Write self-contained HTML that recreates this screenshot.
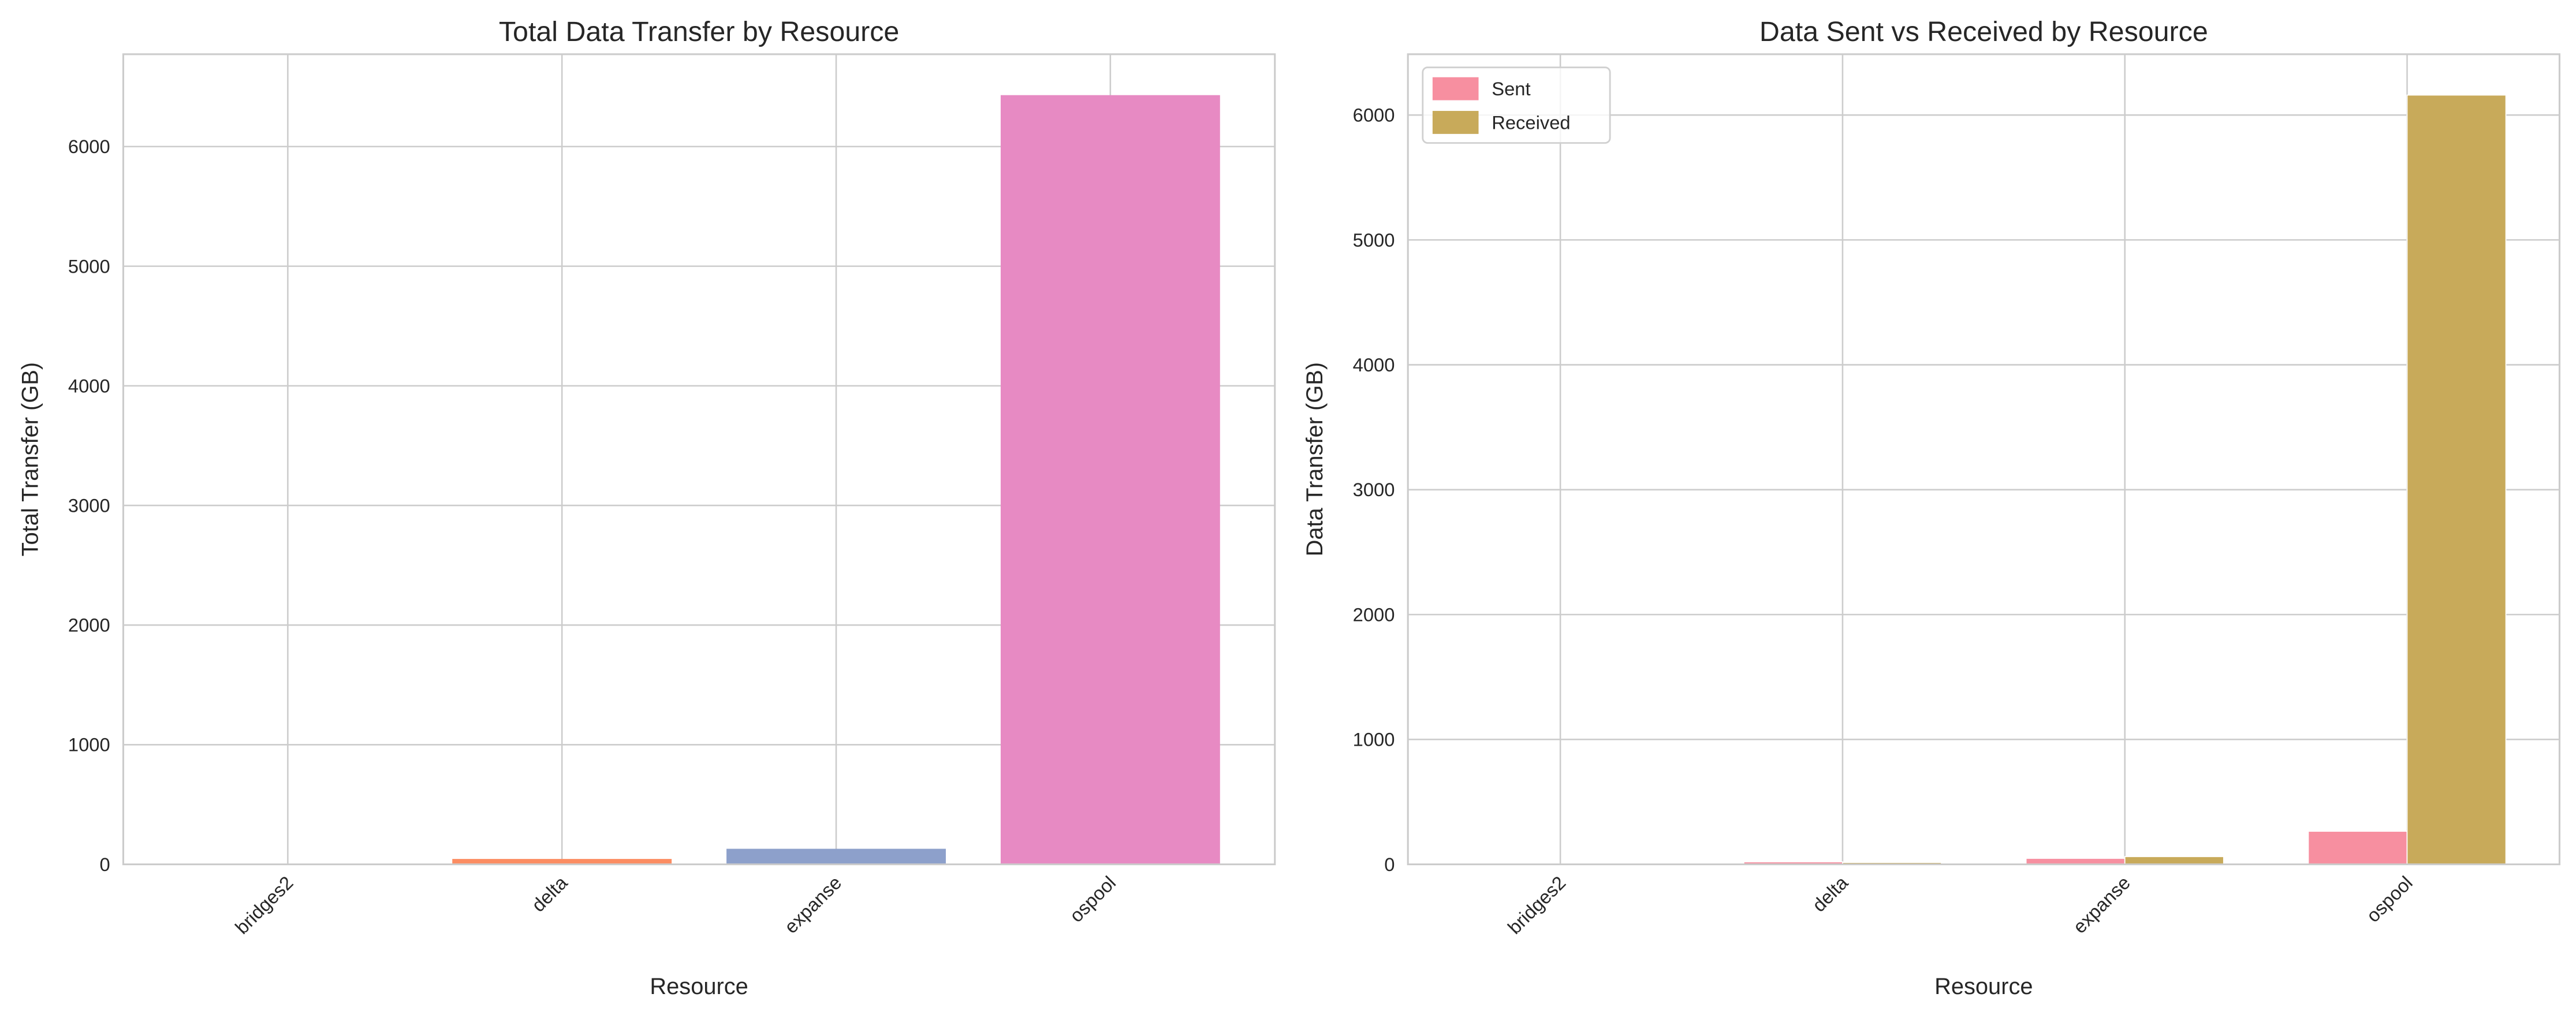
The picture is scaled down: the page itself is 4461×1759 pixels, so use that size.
<!DOCTYPE html>
<html><head><meta charset="utf-8"><style>
html,body{margin:0;padding:0;background:#fff;}
svg{display:block;font-family:"Liberation Sans",Arial,sans-serif;}
</style></head><body>
<svg id="fig" xmlns="http://www.w3.org/2000/svg" width="4461" height="1759" viewBox="0 0 1568 618.3"></svg>
<script>
const categories = ["bridges2","delta","expanse","ospool"];
const totalValues = [5, 45, 130, 6430];
const sentValues = [2, 20, 48, 265];
const receivedValues = [2, 15, 62, 6160];
const leftTicks = [0,1000,2000,3000,4000,5000,6000];
const rightTicks = [0,1000,2000,3000,4000,5000,6000];
const totalColors = ["#66c2a5","#fc8d62","#8da0cb","#e78ac3"];

const NS="http://www.w3.org/2000/svg";
const svg=document.getElementById('fig');
function mk(tag,attrs,parent){const e=document.createElementNS(NS,tag);for(const k in attrs)e.setAttribute(k,attrs[k]);(parent||svg).appendChild(e);return e;}

function panel(cfg){
  const g=mk('g',{});
  
  
  const L=cfg.x0,R=cfg.x1,T=33,B=526;
  const pad=cfg.pad;
  const xs=i=>L+(i+pad)/(3+2*pad)*(R-L);
  const ys=v=>B-v/cfg.ymax*(B-T);
  cfg.ticks.forEach(t=>{
    const l=mk('line',{x1:L,x2:R,y1:ys(t),y2:ys(t),stroke:'#cccccc','stroke-width':0.9},g);
    
    
    const tx=mk('text',{x:L-8,y:ys(t)+4,'text-anchor':'end','font-size':11.5,fill:'#262626'},g);
    tx.textContent=t;
    
    
  });
  categories.forEach((c,i)=>{
    const l=mk('line',{x1:xs(i),x2:xs(i),y1:T,y2:B,stroke:'#cccccc','stroke-width':0.9},g);
    
    
  });
  cfg.draw(g,xs,ys,(R-L)/(3+2*pad));
  const fr=mk('rect',{x:L,y:T,width:R-L,height:B-T,fill:'none',stroke:'#cccccc','stroke-width':1.1},g);
  
  
  categories.forEach((c,i)=>{
    const x=xs(i)+4,y=B+12;
    const t=mk('text',{x:x,y:y,'text-anchor':'end','font-size':11.5,fill:'#262626',transform:`rotate(-45 ${x} ${y})`},g);
    t.textContent=c;
    
    
  });
  const ti=mk('text',{x:(L+R)/2,y:25,'text-anchor':'middle','font-size':17,fill:'#262626'},g);
  ti.textContent=cfg.title;
  
  
  const xl=mk('text',{x:(L+R)/2,y:605,'text-anchor':'middle','font-size':14,fill:'#262626'},g);
  xl.textContent='Resource';
  
  
  const yx=cfg.ylx,yy=(T+B)/2;
  const yl=mk('text',{x:yx,y:yy,'text-anchor':'middle','font-size':14,fill:'#262626',transform:`rotate(-90 ${yx} ${yy})`},g);
  yl.textContent=cfg.ylabel;
  
  
}

panel({name:'total-transfer-chart',x0:75,x1:776,pad:0.6,ymax:6772,ticks:leftTicks,title:'Total Data Transfer by Resource',ylabel:'Total Transfer (GB)',ylx:23,
  draw:(g,xs,ys,u)=>{
    const bw=0.8*u;
    totalValues.forEach((v,i)=>{
      const r=mk('rect',{x:xs(i)-bw/2,y:ys(v),width:bw,height:ys(0)-ys(v),fill:totalColors[i]},g);
      
      
    });
  }});

panel({name:'sent-received-chart',x0:857,x1:1558,pad:0.54,ymax:6487,ticks:rightTicks,title:'Data Sent vs Received by Resource',ylabel:'Data Transfer (GB)',ylx:805,
  draw:(g,xs,ys,u)=>{
    const bw=0.35*u;
    sentValues.forEach((v,i)=>{
      const r=mk('rect',{x:xs(i)-bw,y:ys(v),width:bw,height:ys(0)-ys(v),fill:'#f78fa0',stroke:'#fff','stroke-width':0.6},g);
      
      
    });
    receivedValues.forEach((v,i)=>{
      const r=mk('rect',{x:xs(i),y:ys(v),width:bw,height:ys(0)-ys(v),fill:'#c8aa5a',stroke:'#fff','stroke-width':0.6},g);
      
      
    });
    const lg=mk('g',{},g);
    
    
    mk('rect',{x:866,y:41,width:114,height:46,rx:3,fill:'#fff','fill-opacity':0.8,stroke:'#d0d0d0','stroke-width':1},lg);
    const items=[['Sent','#f78fa0'],['Received','#c8aa5a']];
    items.forEach((it,k)=>{
      const e=mk('g',{},lg);
      
      
      mk('rect',{x:872,y:47+k*20.5,width:28,height:14,fill:it[1]},e);
      const t=mk('text',{x:908,y:58+k*20.5,'font-size':11.5,fill:'#262626'},e);
      t.textContent=it[0];
    });
  }});
</script>
</body></html>
